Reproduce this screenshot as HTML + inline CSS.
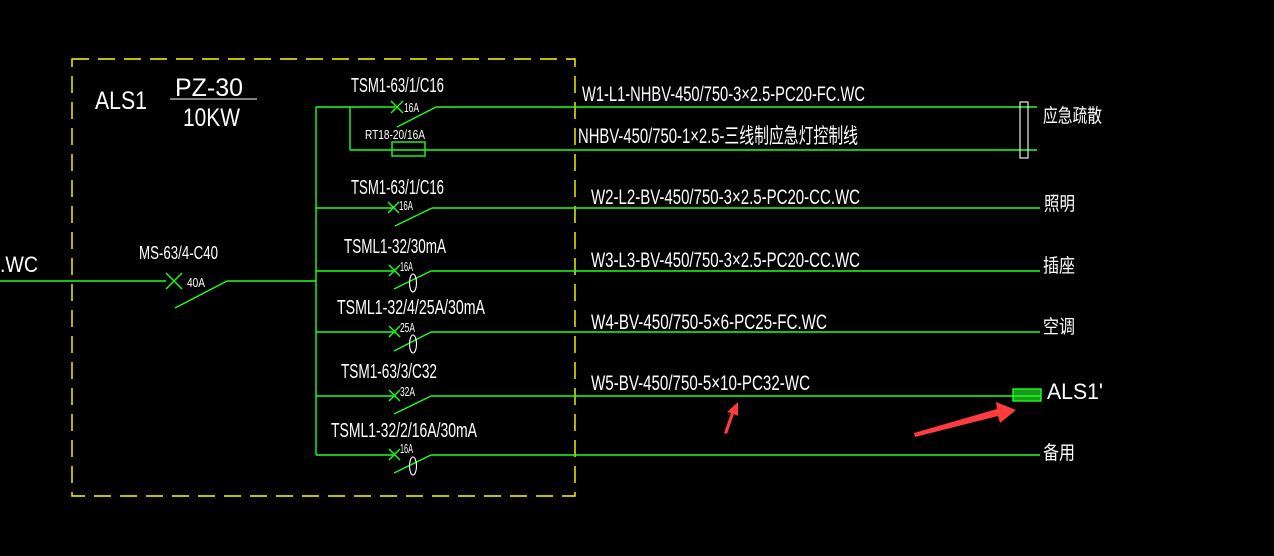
<!DOCTYPE html>
<html><head><meta charset="utf-8"><style>
html,body{margin:0;padding:0;background:#000;width:1274px;height:556px;overflow:hidden}
svg{display:block}
text{font-family:"Liberation Sans","Noto Sans CJK SC",sans-serif;fill:#fff}
</style></head><body>
<svg width="1274" height="556" viewBox="0 0 1274 556" xmlns="http://www.w3.org/2000/svg">
<rect x="72" y="59" width="503" height="437" fill="none" stroke="#ffff00" stroke-width="1.4" stroke-dasharray="17,9"/>
<g stroke="#1fff1f" stroke-width="1.4" fill="none">
<line x1="0" y1="281" x2="166" y2="281"/>
<line x1="227" y1="281" x2="316" y2="281"/>
<line x1="175" y1="308" x2="227" y2="281"/>
<line x1="166" y1="273" x2="182" y2="289"/><line x1="166" y1="289" x2="182" y2="273"/>
<line x1="316" y1="107" x2="316" y2="455"/>
<line x1="316" y1="107" x2="395" y2="107"/>
<line x1="436" y1="107" x2="1037" y2="107"/>
<line x1="397" y1="127" x2="436" y2="107"/>
<line x1="391" y1="101" x2="403" y2="113"/><line x1="391" y1="113" x2="403" y2="101"/>
<line x1="350" y1="107" x2="350" y2="150"/>
<line x1="350" y1="150" x2="1037" y2="150"/>
<rect x="392" y="142" width="33" height="14"/>
<line x1="316" y1="208" x2="393" y2="208"/><line x1="432" y1="208" x2="1040" y2="208"/>
<line x1="395" y1="226" x2="432" y2="208"/>
<line x1="388" y1="202" x2="399" y2="213"/><line x1="388" y1="213" x2="399" y2="202"/>
<line x1="316" y1="271" x2="393" y2="271"/><line x1="431" y1="271" x2="1040" y2="271"/>
<line x1="394" y1="289" x2="431" y2="271"/>
<line x1="389" y1="265" x2="400" y2="276"/><line x1="389" y1="276" x2="400" y2="265"/>
<line x1="316" y1="332" x2="393" y2="332"/><line x1="431" y1="332" x2="1040" y2="332"/>
<line x1="394" y1="351" x2="431" y2="332"/>
<line x1="389" y1="326" x2="400" y2="337"/><line x1="389" y1="337" x2="400" y2="326"/>
<line x1="316" y1="396" x2="393" y2="396"/><line x1="431" y1="396" x2="1014" y2="396"/>
<line x1="394" y1="414" x2="431" y2="396"/>
<line x1="389" y1="390" x2="400" y2="401"/><line x1="389" y1="401" x2="400" y2="390"/>
<line x1="316" y1="455" x2="393" y2="455"/><line x1="431" y1="455" x2="1040" y2="455"/>
<line x1="394" y1="473" x2="431" y2="455"/>
<line x1="389" y1="449" x2="400" y2="460"/><line x1="389" y1="460" x2="400" y2="449"/>
</g>
<g stroke="#fff" stroke-width="1.1" fill="none">
<ellipse cx="413" cy="283" rx="3.5" ry="9"/>
<ellipse cx="413" cy="344" rx="3.5" ry="9"/>
<ellipse cx="413" cy="466" rx="3.5" ry="9"/>
<rect x="1020" y="102" width="8" height="56"/>
<line x1="170" y1="99" x2="257" y2="99"/>
</g>
<rect x="1013" y="389" width="28" height="12" fill="#1a9a1a" stroke="#1fff1f" stroke-width="1.4"/>
<line x1="1013" y1="396" x2="1041" y2="396" stroke="#1fff1f" stroke-width="1.4"/>
<polygon points="724,433 731,413 727,412 738,402 738,416 734,414 727,434" fill="#ff3b3b"/>
<polygon points="915,437 998,416 1000,423 1016,410 996,402 997,409 914,433" fill="#ff3b3b"/>
<text x="95" y="109" font-size="25" textLength="52" lengthAdjust="spacingAndGlyphs">ALS1</text>
<text x="175" y="96" font-size="25" textLength="68" lengthAdjust="spacingAndGlyphs">PZ-30</text>
<text x="183" y="126" font-size="25" textLength="57" lengthAdjust="spacingAndGlyphs">10KW</text>
<text x="0" y="272" font-size="22" textLength="38" lengthAdjust="spacingAndGlyphs">.WC</text>
<text x="139" y="259" font-size="18" textLength="79" lengthAdjust="spacingAndGlyphs">MS-63/4-C40</text>
<text x="187" y="287" font-size="13" textLength="18" lengthAdjust="spacingAndGlyphs">40A</text>
<g font-size="20">
<text x="351" y="92" textLength="93" lengthAdjust="spacingAndGlyphs">TSM1-63/1/C16</text>
<text x="351" y="194" textLength="93" lengthAdjust="spacingAndGlyphs">TSM1-63/1/C16</text>
<text x="344" y="253" textLength="102" lengthAdjust="spacingAndGlyphs">TSML1-32/30mA</text>
<text x="337" y="314" textLength="148" lengthAdjust="spacingAndGlyphs">TSML1-32/4/25A/30mA</text>
<text x="341" y="378" textLength="96" lengthAdjust="spacingAndGlyphs">TSM1-63/3/C32</text>
<text x="331" y="437" textLength="146" lengthAdjust="spacingAndGlyphs">TSML1-32/2/16A/30mA</text>
</g>
<g font-size="13">
<text x="404" y="112" textLength="15" lengthAdjust="spacingAndGlyphs">16A</text>
<text x="365" y="139" textLength="60" lengthAdjust="spacingAndGlyphs">RT18-20/16A</text>
<text x="399" y="210" textLength="14" lengthAdjust="spacingAndGlyphs">16A</text>
<text x="400" y="271" textLength="13" lengthAdjust="spacingAndGlyphs">16A</text>
<text x="400" y="332" textLength="15" lengthAdjust="spacingAndGlyphs">25A</text>
<text x="400" y="396" textLength="15" lengthAdjust="spacingAndGlyphs">32A</text>
<text x="400" y="453" textLength="13" lengthAdjust="spacingAndGlyphs">16A</text>
</g>
<g font-size="21">
<text x="582" y="101" textLength="283" lengthAdjust="spacingAndGlyphs">W1-L1-NHBV-450/750-3×2.5-PC20-FC.WC</text>
<text x="578" y="143" textLength="280" lengthAdjust="spacingAndGlyphs">NHBV-450/750-1×2.5-三线制应急灯控制线</text>
<text x="591" y="204" textLength="269" lengthAdjust="spacingAndGlyphs">W2-L2-BV-450/750-3×2.5-PC20-CC.WC</text>
<text x="591" y="267" textLength="269" lengthAdjust="spacingAndGlyphs">W3-L3-BV-450/750-3×2.5-PC20-CC.WC</text>
<text x="591" y="329" textLength="236" lengthAdjust="spacingAndGlyphs">W4-BV-450/750-5×6-PC25-FC.WC</text>
<text x="591" y="390" textLength="219" lengthAdjust="spacingAndGlyphs">W5-BV-450/750-5×10-PC32-WC</text>
</g>
<g font-size="19">
<text x="1043" y="122" textLength="59" lengthAdjust="spacingAndGlyphs">应急疏散</text>
<text x="1044" y="210" textLength="31" lengthAdjust="spacingAndGlyphs">照明</text>
<text x="1043" y="272" textLength="32" lengthAdjust="spacingAndGlyphs">插座</text>
<text x="1043" y="333" textLength="32" lengthAdjust="spacingAndGlyphs">空调</text>
<text x="1043" y="459" textLength="32" lengthAdjust="spacingAndGlyphs">备用</text>
</g>
<text x="1047" y="399" font-size="22" textLength="56" lengthAdjust="spacingAndGlyphs">ALS1'</text>
</svg>
</body></html>
